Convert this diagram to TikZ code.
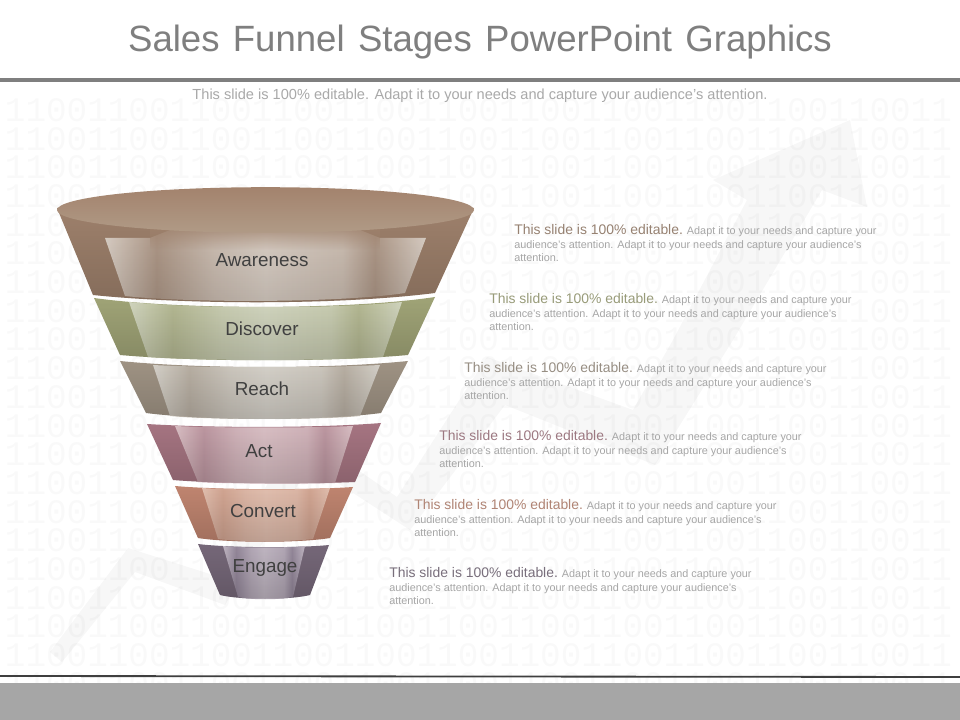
\documentclass[tikz,border=0pt]{standalone}
\usepackage{fontspec}
\setmainfont{Liberation Sans}
\newfontfamily\digitfont{Liberation Mono}
\usetikzlibrary{fadings}

\definecolor{titlegray}{HTML}{7F7F7F}
\definecolor{subgray}{HTML}{A9A9A9}
\definecolor{bodygray}{HTML}{A6A6A6}
\definecolor{labelgray}{HTML}{404040}
\definecolor{barline}{HTML}{3F3F3F}
\definecolor{bargray}{HTML}{A6A6A6}
\definecolor{rimtop}{HTML}{A3836D}
\definecolor{rimlow}{HTML}{B09A86}
\definecolor{awareout}{HTML}{9E816C}
\definecolor{awarehi}{HTML}{E0D5CB}
\definecolor{awarelo}{HTML}{B49D8C}
\definecolor{discout}{HTML}{A0A477}
\definecolor{dischi}{HTML}{D3D7C0}
\definecolor{disclo}{HTML}{B5B993}
\definecolor{reachout}{HTML}{9F9384}
\definecolor{reachhi}{HTML}{D6D2CA}
\definecolor{reachlo}{HTML}{B9B0A4}
\definecolor{actout}{HTML}{A67582}
\definecolor{acthi}{HTML}{DAC0C5}
\definecolor{actlo}{HTML}{BD97A1}
\definecolor{convout}{HTML}{C08570}
\definecolor{convhi}{HTML}{E2BFAF}
\definecolor{convlo}{HTML}{D2A592}
\definecolor{engout}{HTML}{766879}
\definecolor{enghi}{HTML}{C0B6C2}
\definecolor{englo}{HTML}{94879A}

\colorlet{bandhi}{white}
\colorlet{bandlo}{gray}
\pgfdeclarehorizontalshading[bandhi,bandlo]{bandglow}{100bp}{
  color(0bp)=(bandhi); color(25bp)=(bandhi); color(33bp)=(bandlo);
  color(42bp)=(bandhi!70!bandlo); color(50bp)=(bandhi);
  color(62bp)=(bandhi!70!bandlo); color(67bp)=(bandlo);
  color(75bp)=(bandhi); color(100bp)=(bandhi)}
\tikzfading[name=bandshade, top color=transparent!100, middle color=transparent!100, bottom color=transparent!0]
\tikzfading[name=rimshade, top color=transparent!0, bottom color=transparent!100]

\tikzset{
  headtext/.style={anchor=north west, align=left, inner sep=0pt, text=bodygray, font=\fontsize{7.7pt}{9.75pt}\selectfont},
  bandlabel/.style={text=labelgray, inner sep=0pt, font=\fontsize{13.4pt}{16pt}\selectfont},
  bandfade/.style={black, opacity=.16, path fading=bandshade}
}

\newcommand{\funnelband}[5]{
  \fill[#3] #1;
  \colorlet{bandhi}{#4}\colorlet{bandlo}{#5}
  \shade[shading=bandglow] #2;
  \fill[bandfade] #1;
}
\newcommand{\bandnote}[1]{\fontsize{9.9pt}{9.75pt}\selectfont\textcolor{#1!75!gray}{This slide is 100\% editable.}\fontsize{7.7pt}{9.75pt}\selectfont{} Adapt it to your needs and capture your\\audience's attention. Adapt it to your needs and capture your audience's\\attention.}

\begin{document}
\begin{tikzpicture}[x=0.025cm,y=-0.025cm]
  \useasboundingbox (0,0) rectangle (960,720);
  \fill[white] (0,0) rectangle (960,720);

  % arrow behind everything
  \fill[black,opacity=.03] (50,652) -- (128,548) -- (213,575) -- (300,430) -- (397,497) -- (487,357) -- (633,410) -- (673,340) -- (747,200) -- (713,180) -- (850,120) -- (867,207) -- (822,190) -- (733,340) -- (655,465) -- (505,405) -- (410,530) -- (310,465) -- (225,605) -- (135,572) -- (62,662) -- cycle;

  % rows of digits
  \foreach \row in {0,...,20}
    \node (digits\row) [text=black, opacity=.025, inner sep=0pt, font=\digitfont\fontsize{24.4pt}{26pt}\selectfont] at (478.5,110+28.7*\row) {1100110011001100110011001100110011001100110011};

  \draw[titlegray,line width=2.2pt] (0,80) -- (960,80);
  \draw[barline,line width=1.3pt] (0,676) -- (960,677);
  \fill[bargray] (0,683) rectangle (960,720);

  \node (title) [text=titlegray, inner sep=0pt, font=\fontsize{26pt}{30pt}\selectfont] at (480,42) {\spaceskip=9.5pt Sales Funnel Stages PowerPoint Graphics};
  \node (subtitle) [text=subgray, inner sep=0pt, font=\fontsize{10.37pt}{12pt}\selectfont] at (480,96) {This slide is 100\% editable. Adapt it to your needs and capture your audience's attention.};

  % the six bands, top to bottom
  \funnelband{(57,208) -- (93,295) .. controls (190,305) and (340,305) .. (435,293) -- (474,208) -- cycle}
    {(105,238) -- (150,238) -- (190,222) -- (340,222) -- (380,238) -- (426,238) -- (405,293) .. controls (340,303) and (190,303) .. (125,296) -- cycle}
    {awareout}{awarehi}{awarelo}
  \fill[awareout,opacity=.85,path fading=rimshade] (150,226) rectangle (380,250);
  \funnelband{(94,298) .. controls (180,310) and (350,310) .. (435,297) -- (408,355) .. controls (330,362) and (200,362) .. (120,355) -- cycle}
    {(129,302) .. controls (200,309) and (330,309) .. (402,302) -- (383,357) .. controls (330,361) and (200,361) .. (148,357) -- cycle}
    {discout}{dischi}{disclo}
  \funnelband{(120,361) .. controls (200,369) and (330,369) .. (408,361) -- (381,413) .. controls (320,421) and (210,421) .. (146,413) -- cycle}
    {(153,365) .. controls (210,368) and (320,368) .. (380,365) -- (360,416) .. controls (320,420) and (210,420) .. (170,416) -- cycle}
    {reachout}{reachhi}{reachlo}
  \funnelband{(147,424) .. controls (210,428) and (320,428) .. (381,423) -- (355,482) .. controls (310,484) and (220,484) .. (173,480) -- cycle}
    {(175,426) .. controls (220,428) and (310,428) .. (353,426) -- (335,483) .. controls (300,484) and (230,484) .. (198,482) -- cycle}
    {actout}{acthi}{actlo}
  \funnelband{(175,486) .. controls (220,490) and (310,490) .. (353,487) -- (330,538) .. controls (300,543) and (230,543) .. (198,538) -- cycle}
    {(202,488) .. controls (230,490) and (300,490) .. (330,488) -- (313,539) .. controls (290,542) and (240,542) .. (218,539) -- cycle}
    {convout}{convhi}{convlo}
  \funnelband{(198,544) .. controls (230,548) and (300,548) .. (329,545) -- (310,595) .. controls (290,600) and (240,600) .. (220,595) -- cycle}
    {(223,546) .. controls (240,548) and (290,548) .. (305,546) -- (293,597) .. controls (280,600) and (250,600) .. (238,597) -- cycle}
    {engout}{enghi}{englo}

  \shade[top color=rimtop, bottom color=rimlow] (265.5,210) ellipse (208.5 and 22.8);

  \node (awareness) [bandlabel] at (262,260) {Awareness};
  \node (discover) [bandlabel] at (262,329) {Discover};
  \node (reach) [bandlabel] at (262,389) {Reach};
  \node (act) [bandlabel] at (259,451) {Act};
  \node (convert) [bandlabel] at (263,511) {Convert};
  \node (engage) [bandlabel] at (265,568) {Engage};

  \node (note1) [headtext] at (514,224) {\bandnote{awareout}};
  \node (note2) [headtext] at (489,293) {\bandnote{discout}};
  \node (note3) [headtext] at (464,362) {\bandnote{reachout}};
  \node (note4) [headtext] at (439,430) {\bandnote{actout}};
  \node (note5) [headtext] at (414,499) {\bandnote{convout}};
  \node (note6) [headtext] at (389,567) {\bandnote{engout}};
\end{tikzpicture}
\end{document}
